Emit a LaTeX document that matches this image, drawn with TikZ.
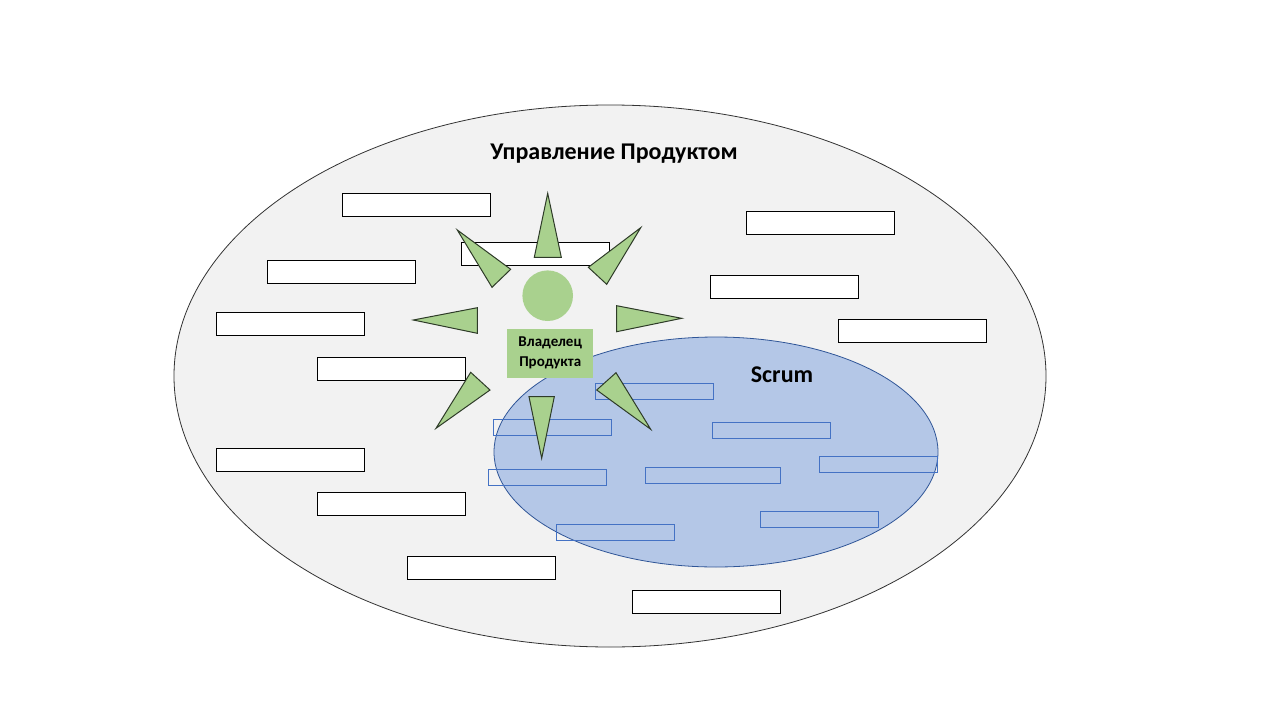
\documentclass[tikz,border=0pt]{standalone}
\usepackage{fontspec}
\setmainfont{Carlito}
\usetikzlibrary{positioning,shapes.geometric}
\definecolor{bgfield}{HTML}{F2F2F2}
\definecolor{scrumfill}{HTML}{B4C7E7}
\definecolor{scrumedge}{HTML}{2F5597}
\definecolor{scrumbox}{HTML}{4472C4}
\definecolor{pogreen}{HTML}{A9D18E}
\definecolor{raydark}{HTML}{2E3B28}

\begin{document}
\begin{tikzpicture}[x=1pt,y=-1pt,
  wbox/.style={draw=black,fill=white,minimum width=148pt,minimum height=23pt,inner sep=0pt,line width=0.8pt},
  bbox/.style={draw=scrumbox,minimum width=118pt,minimum height=16pt,inner sep=0pt,line width=0.7pt},
  ray/.style={draw=raydark,fill=pogreen,line width=1pt}]
  \useasboundingbox[fill=white] (0,0) rectangle (1280,720);
  % product management field
  \node (pm) [ellipse,draw=black!80,fill=bgfield,line width=0.8pt,minimum width=872pt,minimum height=542pt,inner sep=0pt] at (610,376) {};
  \node (w1) [wbox] at (416,204.5) {};
  \node (w2) [wbox] at (535,254) {};
  \node (w3) [wbox] at (341.5,271.5) {};
  \node (w4) [wbox] at (290,323.5) {};
  \node (w5) [wbox] at (391,368.5) {};
  \node (w6) [wbox] at (290,459.5) {};
  \node (w7) [wbox] at (391,503.5) {};
  \node (w8) [wbox] at (481.5,567.5) {};
  \node (w9) [wbox] at (706,602) {};
  \node (w10) [wbox] at (820,222.5) {};
  \node (w11) [wbox] at (784.5,286.5) {};
  \node (w12) [wbox] at (912,331) {};
  % scrum
  \node (scrum) [ellipse,draw=scrumedge,fill=scrumfill,line width=0.8pt,minimum width=444pt,minimum height=230pt,inner sep=0pt] at (716,452) {};
  \node (b1) [bbox] at (654.3,391.3) {};
  \node (b2) [bbox] at (552.5,427.8) {};
  \node (b3) [bbox] at (771.5,430.8) {};
  \node (b4) [bbox] at (878.8,464.8) {};
  \node (b5) [bbox] at (547.5,477.8) {};
  \node (b6) [bbox,minimum width=135pt] at (713,475.8) {};
  \node (b7) [bbox] at (819.5,519.8) {};
  \node (b8) [bbox] at (615.3,532.3) {};
  % product owner
  \node (head) [circle,fill=pogreen,minimum size=50.6pt,inner sep=0pt] at (547.7,295.7) {};
  \node (po) [fill=pogreen,minimum width=86pt,minimum height=48.7pt,inner sep=0pt,align=center,
    font=\bfseries\fontsize{15}{20}\selectfont] at (550.2,353.3) {Владелец\\Продукта};
  \draw[ray] (547.7,193.3) -- (534.3,257.3) -- (561.3,257.3) -- cycle;
  \draw[ray] (457.3,230) -- (510.7,269.3) -- (492,287.3) -- cycle;
  \draw[ray] (640.7,227.7) -- (588.3,267.3) -- (606.7,284.3) -- cycle;
  \draw[ray] (413.3,320) -- (477.3,307.7) -- (477.3,333.3) -- cycle;
  \draw[ray] (681.7,318.3) -- (616.7,305.7) -- (616.7,331.7) -- cycle;
  \draw[ray] (436,428.3) -- (470.7,372.3) -- (490,390) -- cycle;
  \draw[ray] (541.7,458.3) -- (529,396.7) -- (554.3,396.7) -- cycle;
  \draw[ray] (650.7,429.3) -- (596.7,390) -- (616,372.7) -- cycle;
  % titles
  \node (pmtitle) [font=\bfseries\fontsize{24}{28}\selectfont] at (614,153.5) {Управление Продуктом};
  \node (scrumtitle) [font=\bfseries\fontsize{24}{28}\selectfont] at (782,375) {Scrum};
\end{tikzpicture}
\end{document}
